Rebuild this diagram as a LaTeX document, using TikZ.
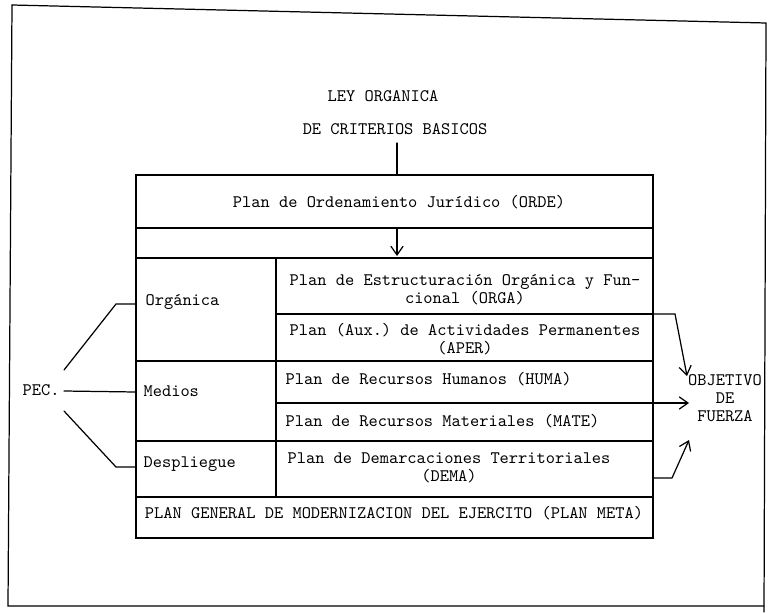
\documentclass[tikz,border=0pt]{standalone}
\usepackage{fontspec}
\usetikzlibrary{arrows.meta}
\frenchspacing
\begin{document}
\begin{tikzpicture}[x=0.02cm,y=-0.02cm,line width=0.7pt,line cap=round]
        % Styles
        \tikzstyle{every node}=[font=\ttfamily\fontsize{10}{10.3}\selectfont,inner sep=0pt]
        \tikzstyle{plan text}=[align=center]
        \tikzstyle{to goal}=[-{Straight Barb[length=5pt,width=7pt]}]
        \useasboundingbox (0,0) rectangle (773,612);
        %frame
        \draw (12,5) -- (766,23) -- (764,612);
        \draw (12,5) -- (8,606) -- (764,606);
        %law on top
        \node (ley) at (383,96) {LEY ORGANICA};
        \node (criterios) at (395,129) {DE CRITERIOS BASICOS};
        \coordinate (ley out) at (397,143);
        \coordinate (box top) at (397,175);
        \draw (ley out) -- (box top);
        %the table
        \draw (136,175) rectangle (653,538);
        \foreach \y in {228,258,361,441,497}
        \draw (136,\y) -- (653,\y);
        \foreach \y in {314,403}
        \draw (276,\y) -- (653,\y);
        \draw (276,258) -- (276,497);
        \coordinate (orde out) at (397,228);
        \coordinate (orde in) at (397,256);
        \draw[to goal] (orde out) -- (orde in);
        %cells
        \node (orde) at (399,202) {Plan de Ordenamiento Jurídico (ORDE)};
        \node[plan text] (orga) at (465,290) {Plan de Estructuración Orgánica y Fun-\\cional (ORGA)};
        \node[plan text] (aper) at (465,339) {Plan (Aux.) de Actividades Permanentes\\(APER)};
        \node[anchor=west] (huma) at (285,379) {Plan de Recursos Humanos (HUMA)};
        \node[anchor=west] (mate) at (285,421) {Plan de Recursos Materiales (MATE)};
        \node[plan text] (dema) at (449,468) {Plan de Demarcaciones Territoriales\\(DEMA)};
        \node (meta) at (394,513) {PLAN GENERAL DE MODERNIZACION DEL EJERCITO (PLAN META)};
        \node[anchor=west] (organica) at (145,302) {Orgánica};
        \node[anchor=west] (medios) at (143,391) {Medios};
        \node[anchor=west] (despliegue) at (143,464) {Despliegue};
        %PEC.
        \node[anchor=west] (pec) at (22,390) {PEC.};
        \coordinate (pec top) at (64,370);
        \coordinate (pec mid) at (64,391);
        \coordinate (pec bottom) at (64,411);
        \coordinate (organica in) at (136,304);
        \coordinate (medios in) at (136,392);
        \coordinate (despliegue in) at (136,467);
        \draw (pec top) -- (116,304) -- (organica in);
        \draw (pec mid) -- (medios in);
        \draw (pec bottom) -- (116,467) -- (despliegue in);
        %goal
        \node[plan text] (objetivo) at (725,398) {OBJETIVO\\DE\\FUERZA};
        \coordinate (aper out) at (653,314);
        \coordinate (mate out) at (653,403);
        \coordinate (dema out) at (653,478);
        \coordinate (goal top) at (687,376);
        \coordinate (goal mid) at (689,403);
        \coordinate (goal bottom) at (689,440);
        \draw[to goal] (aper out) -- (675,314) -- (goal top);
        \draw[to goal] (mate out) -- (goal mid);
        \draw[to goal] (dema out) -- (672,478) -- (goal bottom);
\end{tikzpicture}
\end{document}
